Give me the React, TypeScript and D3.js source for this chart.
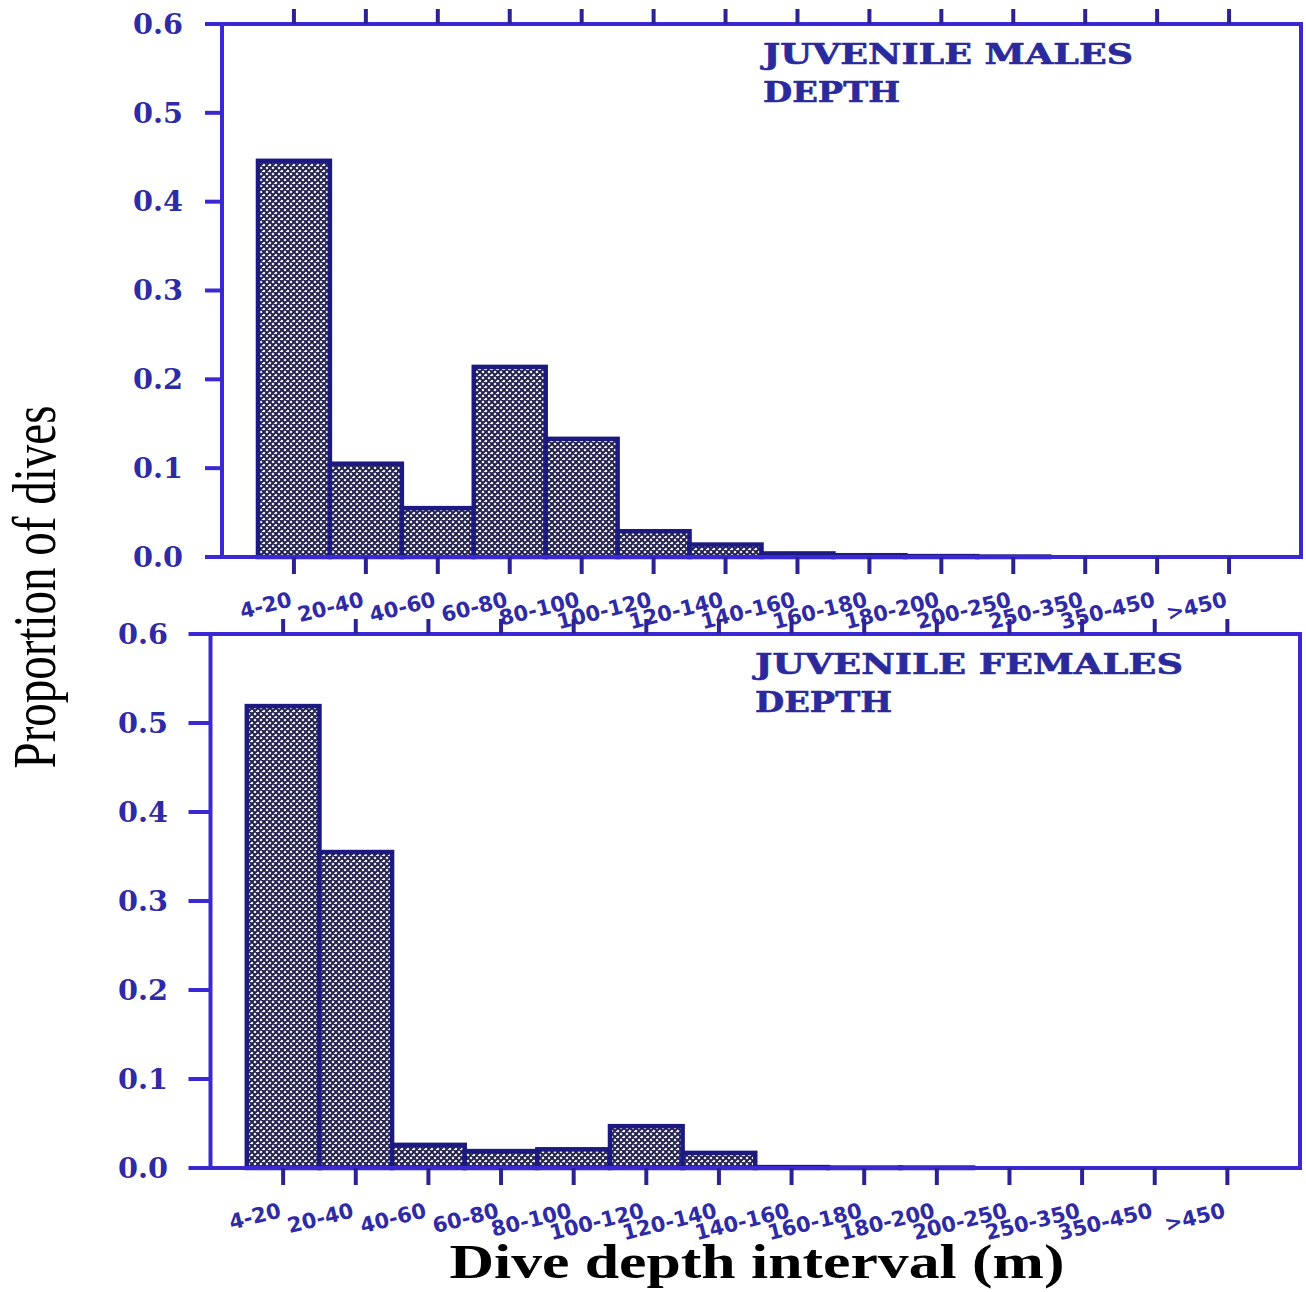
import React from "react";
import * as d3 from "d3";

// Dive depth intervals (m)
const categories = [
  "4-20", "20-40", "40-60", "60-80", "80-100", "100-120", "120-140",
  "140-160", "160-180", "180-200", "200-250", "250-350", "350-450", ">450",
];

// Proportion of dives per interval
const malesValues = [0.446, 0.105, 0.055, 0.214, 0.133, 0.029, 0.014, 0.004, 0.002, 0.001, 0.0005, 0, 0, 0];
const femalesValues = [0.519, 0.355, 0.026, 0.019, 0.021, 0.047, 0.017, 0.001, 0.0005, 0.0005, 0, 0, 0, 0];

const yTicks = [0, 0.1, 0.2, 0.3, 0.4, 0.5, 0.6];
const yTickLabels = ["0.0", "0.1", "0.2", "0.3", "0.4", "0.5", "0.6"];

const maleTitle = ["JUVENILE MALES", "DEPTH"];
const femaleTitle = ["JUVENILE FEMALES", "DEPTH"];

const FRAME = "#3a28d2";
const TICK = "#2c2296";
const BAR_EDGE = "#1c1a80";
const TEXT_BLUE = "#2f2aa6";
const TITLE_BLUE = "#2b2a9c";

type PanelProps = {
  values: number[];
  title: string[];
  left: number;
  right: number;
  top: number;
  bottom: number;
  labelRight: number;
  yTickLen: number;
  titleX: number;
  titleWidths: number[];
};

function Panel(p: PanelProps) {
  const x = d3.scaleLinear().domain([0, categories.length + 1]).range([p.left, p.right]);
  const y = d3.scaleLinear().domain([0, 0.6]).range([p.bottom, p.top]);
  const centers = categories.map((_, i) => x(i + 1));

  return (
    <g>
      {/* bars */}
      {p.values.map((v, i) =>
        v > 0 ? (
          <rect
            key={i}
            x={x(i + 0.5)}
            y={y(v)}
            width={x(i + 1.5) - x(i + 0.5)}
            height={y(0) - y(v)}
            fill="url(#crosshatch)"
            stroke={BAR_EDGE}
            strokeWidth={4.5}
          />
        ) : null
      )}

      {/* frame */}
      <rect
        x={p.left}
        y={p.top}
        width={p.right - p.left}
        height={p.bottom - p.top}
        fill="none"
        stroke={FRAME}
        strokeWidth={4}
      />

      {/* left axis ticks + labels */}
      {yTicks.map((t, i) => (
        <g key={i}>
          <line x1={p.left - p.yTickLen} x2={p.left} y1={y(t)} y2={y(t)} stroke={FRAME} strokeWidth={4} />
          <text
            x={p.labelRight}
            y={y(t)}
            dy="0.36em"
            textAnchor="end"
            fontFamily="'DejaVu Serif', serif"
            fontWeight="bold"
            fontSize={27}
            fill={TEXT_BLUE}
            textLength={50}
            lengthAdjust="spacingAndGlyphs"
          >
            {yTickLabels[i]}
          </text>
        </g>
      ))}

      {/* top and bottom ticks */}
      {centers.map((cx, i) => (
        <g key={i}>
          <line x1={cx} x2={cx} y1={p.top} y2={p.top - 15} stroke={TICK} strokeWidth={4} />
          <line x1={cx} x2={cx} y1={p.bottom} y2={p.bottom + 17} stroke={TICK} strokeWidth={4} />
          <text
            transform={`translate(${cx - 1},${p.bottom + 49}) rotate(-14)`}
            textAnchor="end"
            fontFamily="'DejaVu Sans', sans-serif"
            fontWeight="bold"
            fontSize={21}
            fill={TEXT_BLUE}
          >
            {categories[i]}
          </text>
        </g>
      ))}

      {/* panel title */}
      {p.title.map((line, i) => (
        <text
          key={i}
          x={p.titleX}
          y={p.top + 40 + i * 38}
          fontFamily="'DejaVu Serif', serif"
          fontWeight="bold"
          fontSize={28}
          fill={TITLE_BLUE}
          stroke={TITLE_BLUE}
          strokeWidth={0.6}
          textLength={p.titleWidths[i]}
          lengthAdjust="spacingAndGlyphs"
        >
          {line}
        </text>
      ))}
    </g>
  );
}

export default function App() {
  return (
    <svg
      width={1306}
      height={1292}
      style={{ position: "absolute", left: 0, top: 0, background: "#fff" }}
    >
      <defs>
        <pattern id="crosshatch" width={6} height={6} patternUnits="userSpaceOnUse">
          <rect width={6} height={6} fill="#ffffff" />
          <path
            d="M-1,-1L7,7M7,-1L-1,7M-1,5L1,7M5,-1L7,1M5,7L7,5M-1,1L1,-1"
            stroke="#22214f"
            strokeWidth={2}
          />
        </pattern>
      </defs>

      <Panel
        values={malesValues}
        title={maleTitle}
        left={222}
        right={1301}
        top={24}
        bottom={557}
        labelRight={183}
        yTickLen={17}
        titleX={763}
        titleWidths={[370, 137]}
      />
      <Panel
        values={femalesValues}
        title={femaleTitle}
        left={210.5}
        right={1300}
        top={634}
        bottom={1168}
        labelRight={168}
        yTickLen={22}
        titleX={755}
        titleWidths={[428, 137]}
      />

      {/* shared axis titles */}
      <text
        transform="translate(55,587) rotate(-90)"
        textAnchor="middle"
        fontFamily="'Liberation Serif', 'Times New Roman', serif"
        fontSize={62}
        fill="#000"
        textLength={363}
        lengthAdjust="spacingAndGlyphs"
      >
        Proportion of dives
      </text>
      <text
        x={757}
        y={1278}
        textAnchor="middle"
        fontFamily="'Liberation Serif', 'Times New Roman', serif"
        fontWeight="bold"
        fontSize={48}
        fill="#000"
        textLength={615}
        lengthAdjust="spacingAndGlyphs"
      >
        Dive depth interval (m)
      </text>
    </svg>
  );
}
